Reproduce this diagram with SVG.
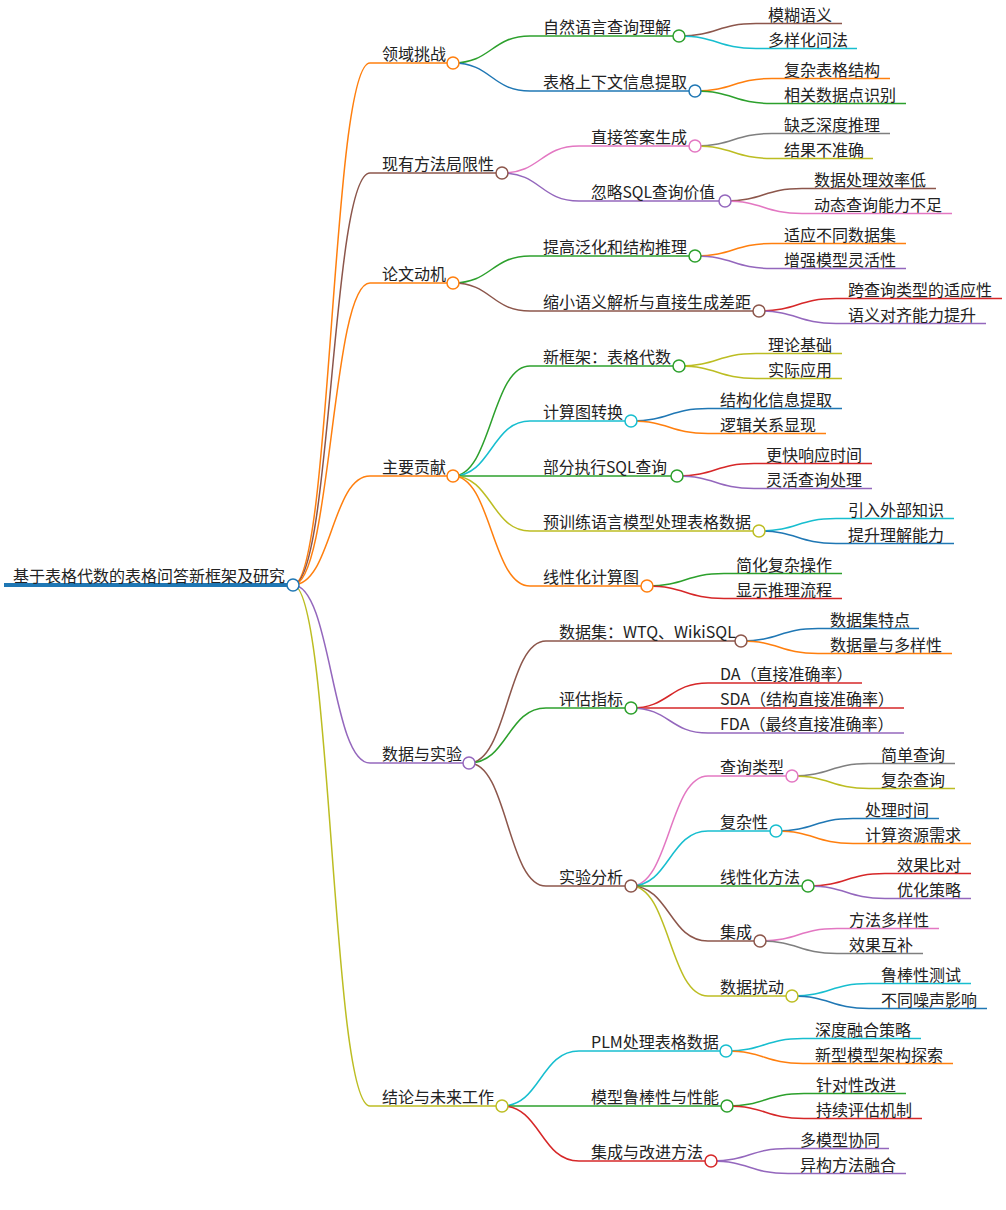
<svg xmlns="http://www.w3.org/2000/svg" width="1006" height="1210" viewBox="0 0 1006 1210">
<style>
path{fill:none;stroke-width:1.5}
circle{fill:#fff;stroke-width:1.5}
text{font-family:"Noto Sans CJK SC","Noto Sans",sans-serif;font-size:16px;fill:#222}
.bl{stroke:#1f77b4}.or{stroke:#ff7f0e}.gr{stroke:#2ca02c}.rd{stroke:#d62728}.pu{stroke:#9467bd}
.br{stroke:#8c564b}.pk{stroke:#e377c2}.gy{stroke:#7f7f7f}.ol{stroke:#bcbd22}.cy{stroke:#17becf}
</style>
<rect width="1006" height="1210" fill="#fff"/>
<g id="connectors">
<path class="or" d="M293,585C331.5,585 331.5,63 370,63"/>
<path class="br" d="M293,585C331.5,585 331.5,173 370,173"/>
<path class="or" d="M293,585C331.5,585 331.5,283 370,283"/>
<path class="or" d="M293,585C331.5,585 331.5,476 370,476"/>
<path class="pu" d="M293,585C331.5,585 331.5,763 370,763"/>
<path class="ol" d="M293,585C331.5,585 331.5,1106 370,1106"/>
<path class="gr" d="M453,63C491.5,63 491.5,36 530,36"/>
<path class="bl" d="M453,63C491.5,63 491.5,91 530,91"/>
<path class="pk" d="M502,173C540.5,173 540.5,146 579,146"/>
<path class="pu" d="M502,173C540.5,173 540.5,201 579,201"/>
<path class="gr" d="M453,283C491.5,283 491.5,256 530,256"/>
<path class="br" d="M453,283C491.5,283 491.5,311 530,311"/>
<path class="gr" d="M453,476C491.5,476 491.5,366 530,366"/>
<path class="cy" d="M453,476C491.5,476 491.5,421 530,421"/>
<path class="gr" d="M453,476C491.5,476 491.5,476 530,476"/>
<path class="ol" d="M453,476C491.5,476 491.5,531 530,531"/>
<path class="or" d="M453,476C491.5,476 491.5,586 530,586"/>
<path class="br" d="M469,763C507.5,763 507.5,641 546,641"/>
<path class="gr" d="M469,763C507.5,763 507.5,708 546,708"/>
<path class="br" d="M469,763C507.5,763 507.5,886 546,886"/>
<path class="cy" d="M502,1106C540.5,1106 540.5,1051 579,1051"/>
<path class="gr" d="M502,1106C540.5,1106 540.5,1106 579,1106"/>
<path class="rd" d="M502,1106C540.5,1106 540.5,1161 579,1161"/>
<path class="pk" d="M631,886C669.5,886 669.5,776 708,776"/>
<path class="cy" d="M631,886C669.5,886 669.5,831 708,831"/>
<path class="gr" d="M631,886C669.5,886 669.5,886 708,886"/>
<path class="br" d="M631,886C669.5,886 669.5,941 708,941"/>
<path class="ol" d="M631,886C669.5,886 669.5,996 708,996"/>
<path class="br" d="M679,36C717.5,36 717.5,23.5 756,23.5"/>
<path class="cy" d="M679,36C717.5,36 717.5,48.5 756,48.5"/>
<path class="or" d="M695,91C733.5,91 733.5,78.5 772,78.5"/>
<path class="gr" d="M695,91C733.5,91 733.5,103.5 772,103.5"/>
<path class="gy" d="M695,146C733.5,146 733.5,133.5 772,133.5"/>
<path class="ol" d="M695,146C733.5,146 733.5,158.5 772,158.5"/>
<path class="br" d="M725,201C763.5,201 763.5,188.5 802,188.5"/>
<path class="pk" d="M725,201C763.5,201 763.5,213.5 802,213.5"/>
<path class="or" d="M695,256C733.5,256 733.5,243.5 772,243.5"/>
<path class="pu" d="M695,256C733.5,256 733.5,268.5 772,268.5"/>
<path class="rd" d="M759,311C797.5,311 797.5,298.5 836,298.5"/>
<path class="pu" d="M759,311C797.5,311 797.5,323.5 836,323.5"/>
<path class="ol" d="M679,366C717.5,366 717.5,353.5 756,353.5"/>
<path class="ol" d="M679,366C717.5,366 717.5,378.5 756,378.5"/>
<path class="bl" d="M631,421C669.5,421 669.5,408.5 708,408.5"/>
<path class="or" d="M631,421C669.5,421 669.5,433.5 708,433.5"/>
<path class="rd" d="M677,476C715.5,476 715.5,463.5 754,463.5"/>
<path class="pu" d="M677,476C715.5,476 715.5,488.5 754,488.5"/>
<path class="cy" d="M759,531C797.5,531 797.5,518.5 836,518.5"/>
<path class="bl" d="M759,531C797.5,531 797.5,543.5 836,543.5"/>
<path class="gr" d="M647,586C685.5,586 685.5,573.5 724,573.5"/>
<path class="rd" d="M647,586C685.5,586 685.5,598.5 724,598.5"/>
<path class="bl" d="M741,641C779.5,641 779.5,628.5 818,628.5"/>
<path class="or" d="M741,641C779.5,641 779.5,653.5 818,653.5"/>
<path class="rd" d="M631,708C669.5,708 669.5,683 708,683"/>
<path class="rd" d="M631,708C669.5,708 669.5,708 708,708"/>
<path class="pu" d="M631,708C669.5,708 669.5,733 708,733"/>
<path class="gy" d="M792,776C830.5,776 830.5,763.5 869,763.5"/>
<path class="ol" d="M792,776C830.5,776 830.5,788.5 869,788.5"/>
<path class="bl" d="M776,831C814.5,831 814.5,818.5 853,818.5"/>
<path class="or" d="M776,831C814.5,831 814.5,843.5 853,843.5"/>
<path class="rd" d="M808,886C846.5,886 846.5,873.5 885,873.5"/>
<path class="pu" d="M808,886C846.5,886 846.5,898.5 885,898.5"/>
<path class="pk" d="M760,941C798.5,941 798.5,928.5 837,928.5"/>
<path class="gy" d="M760,941C798.5,941 798.5,953.5 837,953.5"/>
<path class="cy" d="M792,996C830.5,996 830.5,983.5 869,983.5"/>
<path class="bl" d="M792,996C830.5,996 830.5,1008.5 869,1008.5"/>
<path class="cy" d="M726,1051C764.5,1051 764.5,1038.5 803,1038.5"/>
<path class="or" d="M726,1051C764.5,1051 764.5,1063.5 803,1063.5"/>
<path class="gr" d="M727,1106C765.5,1106 765.5,1093.5 804,1093.5"/>
<path class="rd" d="M727,1106C765.5,1106 765.5,1118.5 804,1118.5"/>
<path class="pu" d="M711,1161C749.5,1161 749.5,1148.5 788,1148.5"/>
<path class="pu" d="M711,1161C749.5,1161 749.5,1173.5 788,1173.5"/>
</g>
<g id="root"><path class="bl" style="stroke-width:4" d="M4,585H287"/><circle class="bl" cx="293" cy="585" r="6"/><text x="13" y="582">基于表格代数的表格问答新框架及研究</text></g>
<g id="n1"><path class="or" d="M370,63H447"/><circle class="or" cx="453" cy="63" r="6"/><text x="382" y="60">领域挑战</text></g>
<g id="n2"><path class="br" d="M370,173H496"/><circle class="br" cx="502" cy="173" r="6"/><text x="382" y="170">现有方法局限性</text></g>
<g id="n3"><path class="or" d="M370,283H447"/><circle class="or" cx="453" cy="283" r="6"/><text x="382" y="280">论文动机</text></g>
<g id="n4"><path class="or" d="M370,476H447"/><circle class="or" cx="453" cy="476" r="6"/><text x="382" y="473">主要贡献</text></g>
<g id="n5"><path class="pu" d="M370,763H463"/><circle class="pu" cx="469" cy="763" r="6"/><text x="382" y="760">数据与实验</text></g>
<g id="n6"><path class="ol" d="M370,1106H496"/><circle class="ol" cx="502" cy="1106" r="6"/><text x="382" y="1103">结论与未来工作</text></g>
<g id="n1-1"><path class="gr" d="M530,36H673"/><circle class="gr" cx="679" cy="36" r="6"/><text x="543" y="33">自然语言查询理解</text></g>
<g id="n1-2"><path class="bl" d="M530,91H689"/><circle class="bl" cx="695" cy="91" r="6"/><text x="543" y="88">表格上下文信息提取</text></g>
<g id="n2-1"><path class="pk" d="M579,146H689"/><circle class="pk" cx="695" cy="146" r="6"/><text x="591" y="143">直接答案生成</text></g>
<g id="n2-2"><path class="pu" d="M579,201H719"/><circle class="pu" cx="725" cy="201" r="6"/><text x="591" y="198" textLength="124" lengthAdjust="spacingAndGlyphs">忽略SQL查询价值</text></g>
<g id="n3-1"><path class="gr" d="M530,256H689"/><circle class="gr" cx="695" cy="256" r="6"/><text x="543" y="253">提高泛化和结构推理</text></g>
<g id="n3-2"><path class="br" d="M530,311H753"/><circle class="br" cx="759" cy="311" r="6"/><text x="543" y="308">缩小语义解析与直接生成差距</text></g>
<g id="n4-1"><path class="gr" d="M530,366H673"/><circle class="gr" cx="679" cy="366" r="6"/><text x="543" y="363">新框架：表格代数</text></g>
<g id="n4-2"><path class="cy" d="M530,421H625"/><circle class="cy" cx="631" cy="421" r="6"/><text x="543" y="418">计算图转换</text></g>
<g id="n4-3"><path class="gr" d="M530,476H671"/><circle class="gr" cx="677" cy="476" r="6"/><text x="543" y="473" textLength="124" lengthAdjust="spacingAndGlyphs">部分执行SQL查询</text></g>
<g id="n4-4"><path class="ol" d="M530,531H753"/><circle class="ol" cx="759" cy="531" r="6"/><text x="543" y="528">预训练语言模型处理表格数据</text></g>
<g id="n4-5"><path class="or" d="M530,586H641"/><circle class="or" cx="647" cy="586" r="6"/><text x="543" y="583">线性化计算图</text></g>
<g id="n5-1"><path class="br" d="M546,641H735"/><circle class="br" cx="741" cy="641" r="6"/><text x="559" y="638">数据集：WTQ、WikiSQL</text></g>
<g id="n5-2"><path class="gr" d="M546,708H625"/><circle class="gr" cx="631" cy="708" r="6"/><text x="559" y="705">评估指标</text></g>
<g id="n5-3"><path class="br" d="M546,886H625"/><circle class="br" cx="631" cy="886" r="6"/><text x="559" y="883">实验分析</text></g>
<g id="n6-1"><path class="cy" d="M579,1051H720"/><circle class="cy" cx="726" cy="1051" r="6"/><text x="591" y="1048">PLM处理表格数据</text></g>
<g id="n6-2"><path class="gr" d="M579,1106H721"/><circle class="gr" cx="727" cy="1106" r="6"/><text x="591" y="1103">模型鲁棒性与性能</text></g>
<g id="n6-3"><path class="rd" d="M579,1161H705"/><circle class="rd" cx="711" cy="1161" r="6"/><text x="591" y="1158">集成与改进方法</text></g>
<g id="n5-3-1"><path class="pk" d="M708,776H786"/><circle class="pk" cx="792" cy="776" r="6"/><text x="720" y="773">查询类型</text></g>
<g id="n5-3-2"><path class="cy" d="M708,831H770"/><circle class="cy" cx="776" cy="831" r="6"/><text x="720" y="828">复杂性</text></g>
<g id="n5-3-3"><path class="gr" d="M708,886H802"/><circle class="gr" cx="808" cy="886" r="6"/><text x="720" y="883">线性化方法</text></g>
<g id="n5-3-4"><path class="br" d="M708,941H754"/><circle class="br" cx="760" cy="941" r="6"/><text x="720" y="938">集成</text></g>
<g id="n5-3-5"><path class="ol" d="M708,996H786"/><circle class="ol" cx="792" cy="996" r="6"/><text x="720" y="993">数据扰动</text></g>
<g id="l1"><path class="br" d="M756,23.5H842"/><text x="768" y="20.5">模糊语义</text></g>
<g id="l2"><path class="cy" d="M756,48.5H857"/><text x="768" y="45.5">多样化问法</text></g>
<g id="l3"><path class="or" d="M772,78.5H890"/><text x="784" y="75.5">复杂表格结构</text></g>
<g id="l4"><path class="gr" d="M772,103.5H906"/><text x="784" y="100.5">相关数据点识别</text></g>
<g id="l5"><path class="gy" d="M772,133.5H890"/><text x="784" y="130.5">缺乏深度推理</text></g>
<g id="l6"><path class="ol" d="M772,158.5H873"/><text x="784" y="155.5">结果不准确</text></g>
<g id="l7"><path class="br" d="M802,188.5H936"/><text x="814" y="185.5">数据处理效率低</text></g>
<g id="l8"><path class="pk" d="M802,213.5H952"/><text x="814" y="210.5">动态查询能力不足</text></g>
<g id="l9"><path class="or" d="M772,243.5H906"/><text x="784" y="240.5">适应不同数据集</text></g>
<g id="l10"><path class="pu" d="M772,268.5H906"/><text x="784" y="265.5">增强模型灵活性</text></g>
<g id="l11"><path class="rd" d="M836,298.5H1002"/><text x="848" y="295.5">跨查询类型的适应性</text></g>
<g id="l12"><path class="pu" d="M836,323.5H986"/><text x="848" y="320.5">语义对齐能力提升</text></g>
<g id="l13"><path class="ol" d="M756,353.5H842"/><text x="768" y="350.5">理论基础</text></g>
<g id="l14"><path class="ol" d="M756,378.5H842"/><text x="768" y="375.5">实际应用</text></g>
<g id="l15"><path class="bl" d="M708,408.5H842"/><text x="720" y="405.5">结构化信息提取</text></g>
<g id="l16"><path class="or" d="M708,433.5H826"/><text x="720" y="430.5">逻辑关系显现</text></g>
<g id="l17"><path class="rd" d="M754,463.5H872"/><text x="766" y="460.5">更快响应时间</text></g>
<g id="l18"><path class="pu" d="M754,488.5H872"/><text x="766" y="485.5">灵活查询处理</text></g>
<g id="l19"><path class="cy" d="M836,518.5H954"/><text x="848" y="515.5">引入外部知识</text></g>
<g id="l20"><path class="bl" d="M836,543.5H954"/><text x="848" y="540.5">提升理解能力</text></g>
<g id="l21"><path class="gr" d="M724,573.5H842"/><text x="736" y="570.5">简化复杂操作</text></g>
<g id="l22"><path class="rd" d="M724,598.5H842"/><text x="736" y="595.5">显示推理流程</text></g>
<g id="l23"><path class="bl" d="M818,628.5H919"/><text x="830" y="625.5">数据集特点</text></g>
<g id="l24"><path class="or" d="M818,653.5H952"/><text x="830" y="650.5">数据量与多样性</text></g>
<g id="l25"><path class="rd" d="M708,683H862"/><text x="720" y="680">DA（直接准确率）</text></g>
<g id="l26"><path class="rd" d="M708,708H904"/><text x="720" y="705">SDA（结构直接准确率）</text></g>
<g id="l27"><path class="pu" d="M708,733H904"/><text x="720" y="730">FDA（最终直接准确率）</text></g>
<g id="l28"><path class="gy" d="M869,763.5H955"/><text x="881" y="760.5">简单查询</text></g>
<g id="l29"><path class="ol" d="M869,788.5H955"/><text x="881" y="785.5">复杂查询</text></g>
<g id="l30"><path class="bl" d="M853,818.5H939"/><text x="865" y="815.5">处理时间</text></g>
<g id="l31"><path class="or" d="M853,843.5H971"/><text x="865" y="840.5">计算资源需求</text></g>
<g id="l32"><path class="rd" d="M885,873.5H971"/><text x="897" y="870.5">效果比对</text></g>
<g id="l33"><path class="pu" d="M885,898.5H971"/><text x="897" y="895.5">优化策略</text></g>
<g id="l34"><path class="pk" d="M837,928.5H939"/><text x="849" y="925.5">方法多样性</text></g>
<g id="l35"><path class="gy" d="M837,953.5H923"/><text x="849" y="950.5">效果互补</text></g>
<g id="l36"><path class="cy" d="M869,983.5H971"/><text x="881" y="980.5">鲁棒性测试</text></g>
<g id="l37"><path class="bl" d="M869,1008.5H987"/><text x="881" y="1005.5">不同噪声影响</text></g>
<g id="l38"><path class="cy" d="M803,1038.5H921"/><text x="815" y="1035.5">深度融合策略</text></g>
<g id="l39"><path class="or" d="M803,1063.5H953"/><text x="815" y="1060.5">新型模型架构探索</text></g>
<g id="l40"><path class="gr" d="M804,1093.5H906"/><text x="816" y="1090.5">针对性改进</text></g>
<g id="l41"><path class="rd" d="M804,1118.5H922"/><text x="816" y="1115.5">持续评估机制</text></g>
<g id="l42"><path class="pu" d="M788,1148.5H889"/><text x="800" y="1145.5">多模型协同</text></g>
<g id="l43"><path class="pu" d="M788,1173.5H906"/><text x="800" y="1170.5">异构方法融合</text></g>
</svg>
